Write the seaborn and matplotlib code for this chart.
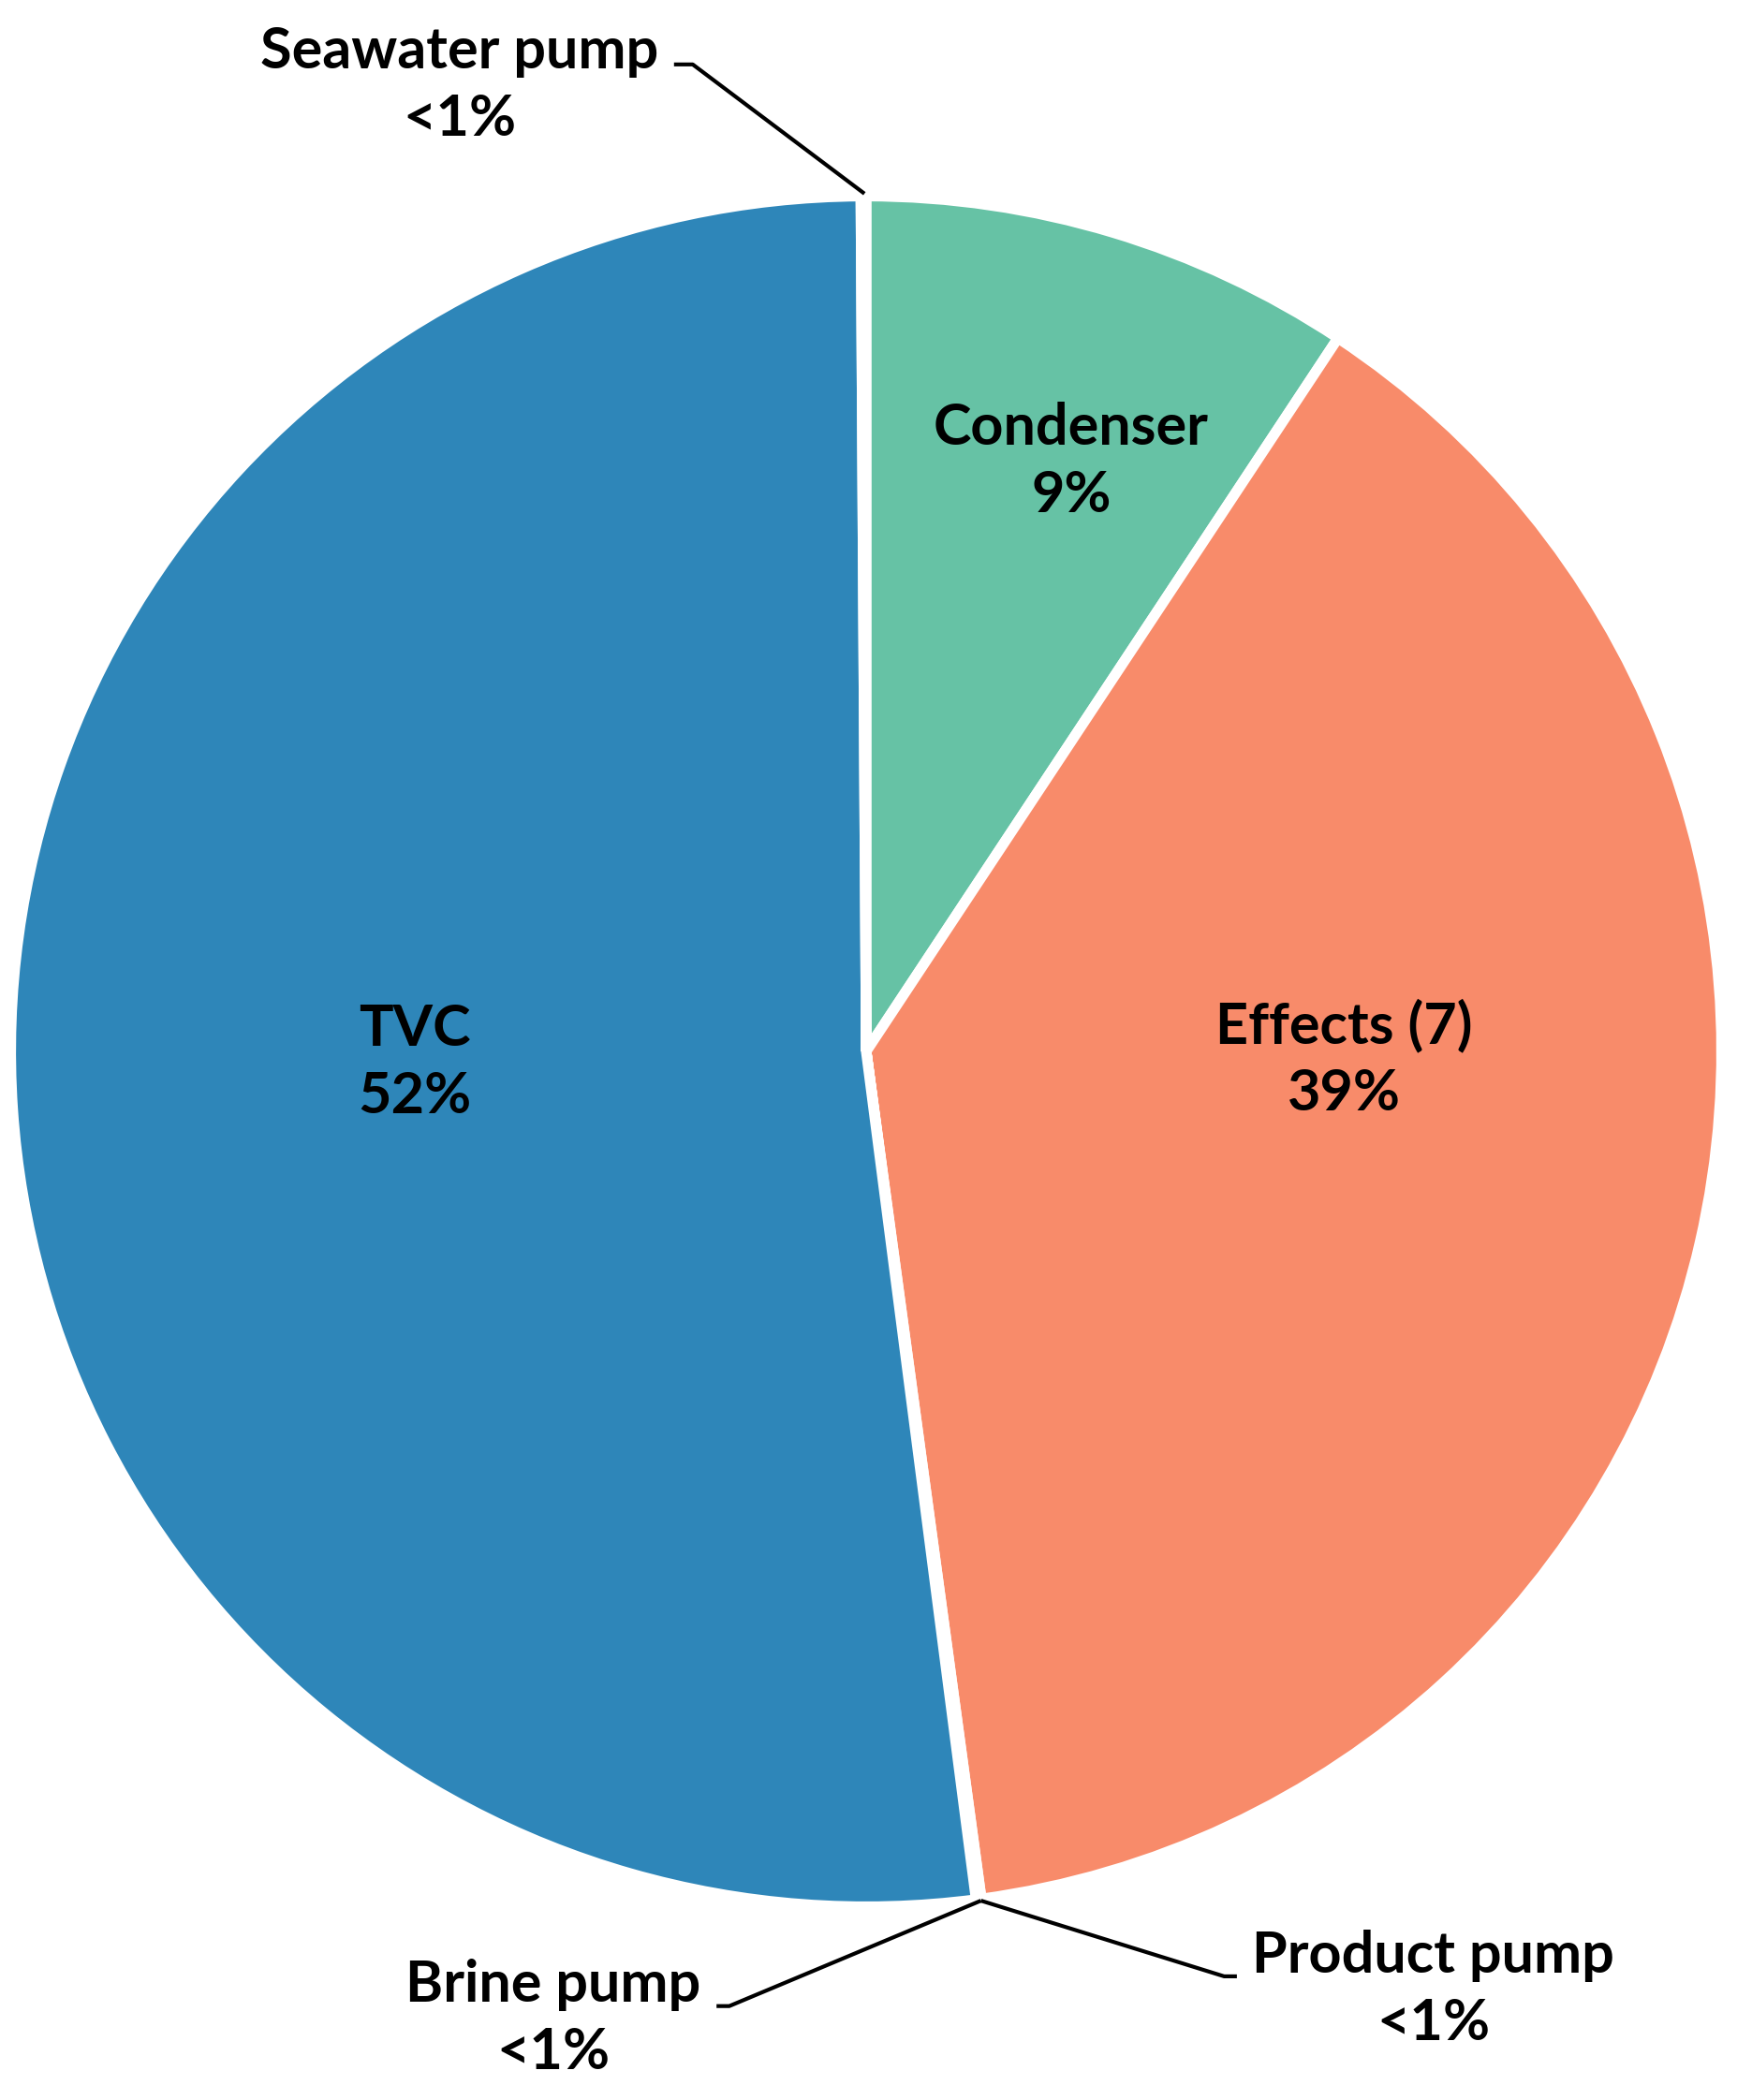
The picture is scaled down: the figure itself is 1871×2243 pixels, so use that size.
import numpy as np
import matplotlib.pyplot as plt
import seaborn as sns

# Share of exergy destruction per component (percent)
components = ["Condenser", "Effects (7)", "Product pump", "Brine pump", "TVC", "Seawater pump"]
shares = [9.3, 38.55, 0.05, 0.05, 51.95, 0.1]
shown = ["9%", "39%", "<1%", "<1%", "52%", "<1%"]
colors = ["#66c2a5", "#f88b6a", "#8da0cb", "#e78ac3", "#2e86b9", "#a6d854"]

sns.set_theme(style="white")
plt.rcParams['font.family'] = ['Lato', 'DejaVu Sans']

fig = plt.figure(figsize=(18.71, 22.43), dpi=100)
ax = fig.add_axes([0, 0, 1, 1])

wedges, _ = ax.pie(shares, colors=colors, startangle=90, counterclock=False,
                   radius=1.006, center=(0, 0),
                   wedgeprops=dict(edgecolor="white", linewidth=8))

# Labels inside the big slices
inside = {0: (0.241, 0.694), 1: (0.562, -0.009), 4: (-0.531, -0.013)}
for i, (x, y) in inside.items():
    ax.text(x, y, f"{components[i]}\n{shown[i]}", ha="center", va="center",
            fontsize=44, fontweight="bold", color="black", linespacing=1.35)

# Callout labels for the tiny slices
outside = {5: (-0.478, 1.137), 3: (-0.368, -1.138), 2: (0.667, -1.104)}
for i, (x, y) in outside.items():
    ax.text(x, y, f"{components[i]}\n{shown[i]}", ha="center", va="center",
            fontsize=44, fontweight="bold", color="black", linespacing=1.35)

leaders = [
    [(-0.226, 1.161), (-0.204, 1.161), (-0.002, 1.009)],
    [(-0.176, -1.123), (-0.161, -1.123), (0.135, -0.999)],
    [(0.135, -0.999), (0.421, -1.088), (0.436, -1.088)],
]
for pts in leaders:
    xs, ys = zip(*pts)
    ax.plot(xs, ys, color="black", linewidth=3, solid_capstyle="butt")

ax.set_xlim(-925 / 908, (1871 - 925) / 908)
ax.set_ylim(-(2243 - 1123) / 908, 1123 / 908)
ax.set_aspect("auto")
ax.axis("off")

fig.savefig("out.png", dpi=100, facecolor="white")
